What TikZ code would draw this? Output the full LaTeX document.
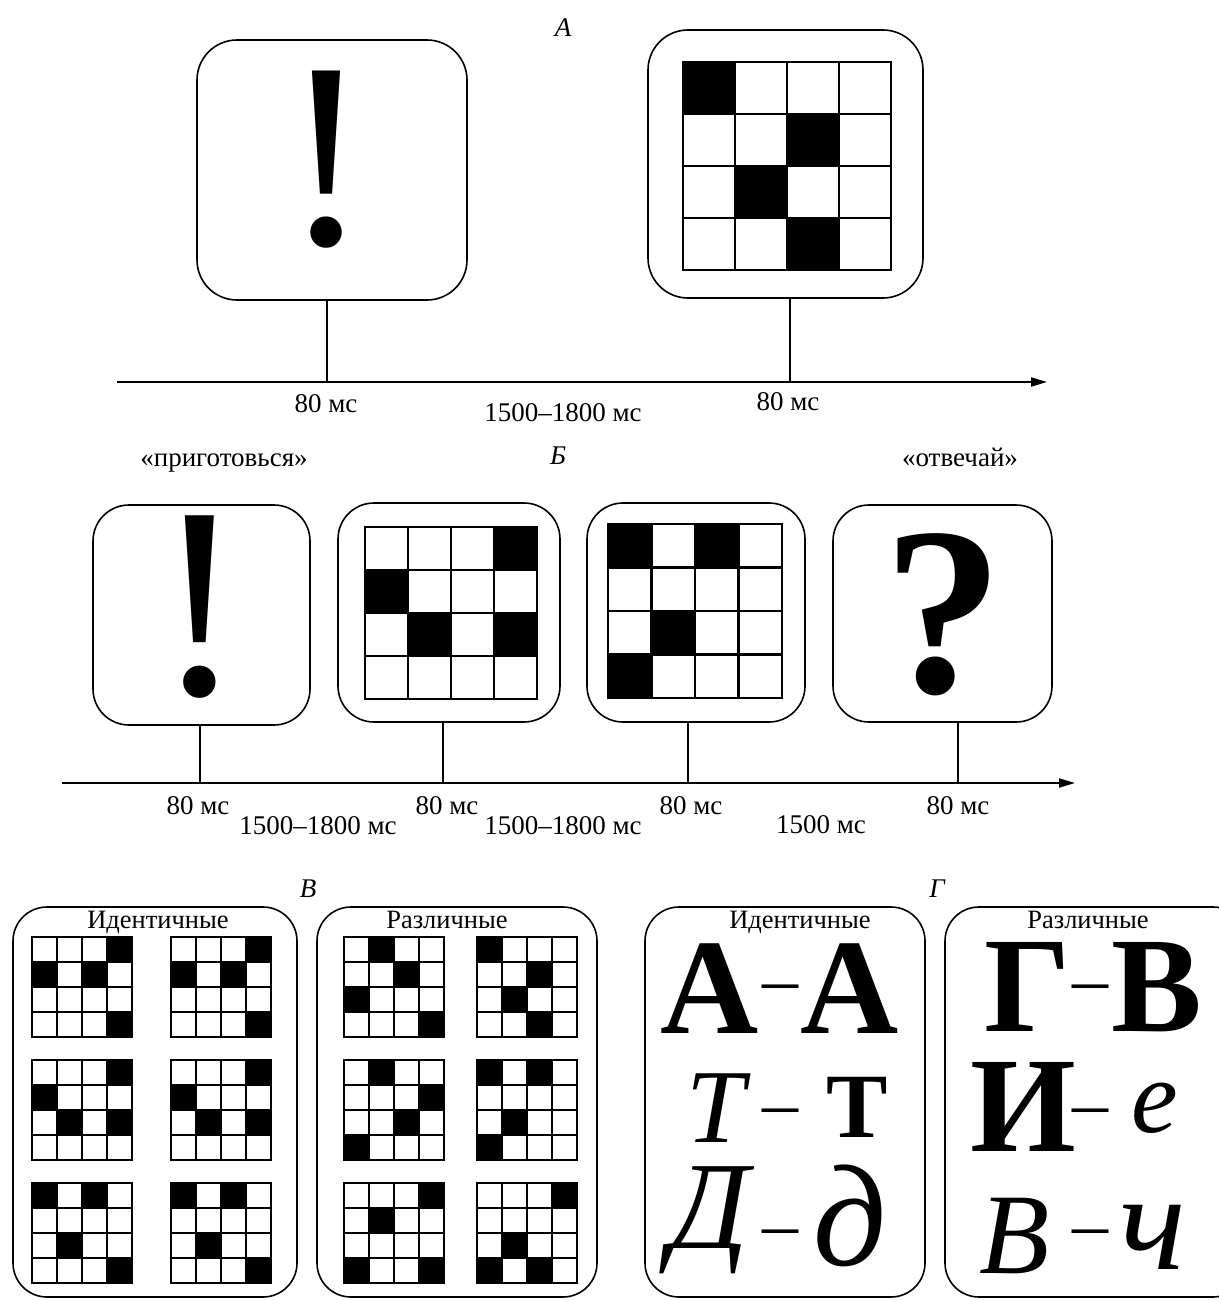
\documentclass[tikz,border=0pt]{standalone}
\usepackage{fontspec}
\setmainfont{Liberation Serif}
\usetikzlibrary{arrows.meta}
\tikzset{
  panel/.style={draw, line width=1.6pt, inner sep=0pt, rounded corners=#1},
  panel/.default=38pt,
  tickline/.style={line width=1.4pt},
  axisline/.style={line width=2pt, -{Triangle[length=16pt,width=9pt]}},
  lbl/.style={font=\fontsize{27}{32}\selectfont, anchor=base, inner sep=0pt},
  ttl/.style={font=\fontsize{26.5}{30}\selectfont, anchor=base, inner sep=0pt},
  seclbl/.style={font=\fontsize{27}{32}\selectfont\itshape, anchor=base, inner sep=0pt},
  glyph/.style={inner sep=0pt, font=\fontsize{#1}{#1}\selectfont},
  bglyph/.style={inner sep=0pt, font=\fontsize{#1}{#1}\selectfont\bfseries},
  iglyph/.style={inner sep=0pt, font=\fontsize{#1}{#1}\selectfont\itshape},
  dashglyph/.style={inner sep=0pt, anchor=base, font=\fontsize{72}{72}\selectfont},
}
% #1 x, #2 y (top), #3 cell size, #4 line width, #5 pattern (16 entries, row by row)
\newcommand{\patgrid}[5]{%
  \foreach \v [count=\kk from 0] in {#5} {%
    \pgfmathtruncatemacro{\rr}{floor(\kk/4)}%
    \pgfmathtruncatemacro{\cc}{mod(\kk,4)}%
    \ifnum\v=1
      \fill ({#1+\cc*#3},{#2+\rr*#3}) rectangle ++(#3,#3);
    \fi
  }%
  \foreach \jj in {0,...,4} {%
    \draw[line width=#4, line cap=rect] ({#1+\jj*#3},#2) -- ++(0,{4*#3});
    \draw[line width=#4, line cap=rect] (#1,{#2+\jj*#3}) -- ++({4*#3},0);
  }%
}
\begin{document}
\begin{tikzpicture}[x=1pt,y=-1pt]
\useasboundingbox (0,0) rectangle (1218,1300);
\fill[white] (0,0) rectangle (1218,1300);

% ---------------- A ----------------
\node[seclbl] (secA) at (563,37) {А};
\node[panel=40pt, minimum width=270pt, minimum height=260pt] (pA1) at (332,170) {};
\node[glyph=265] (exA) at (327,160) {!};
\node[panel=40pt, minimum width=275pt, minimum height=268pt] (pA2) at (785.5,164) {};
\patgrid{683}{62}{52}{2.6}{1,0,0,0, 0,0,1,0, 0,1,0,0, 0,0,1,0}
\coordinate (axA0) at (117,382);
\coordinate (axA1) at (1047,382);
\draw[axisline] (axA0) -- (axA1);
\coordinate (tA1) at (327,382);
\coordinate (tA2) at (790,382);
\draw[tickline] (pA1.south -| tA1) -- (tA1);
\draw[tickline] (pA2.south -| tA2) -- (tA2);
\node[lbl] (lA1) at (326,412) {80 мс};
\node[lbl] (lA2) at (563,421) {1500–1800 мс};
\node[lbl] (lA3) at (788,410) {80 мс};

% ---------------- Б ----------------
\node[seclbl] (secB) at (558,464) {Б};
\node[lbl] (rdy) at (224,466) {«приготовься»};
\node[lbl] (ans) at (960,466) {«отвечай»};
\node[panel=36pt, minimum width=217pt, minimum height=220pt] (pB1) at (201.5,615) {};
\node[glyph=273] (exB) at (200,607) {!};
\node[panel=36pt, minimum width=222pt, minimum height=219pt] (pB2) at (449,612.5) {};
\patgrid{365}{527}{43}{2.4}{0,0,0,1, 1,0,0,0, 0,1,0,1, 0,0,0,0}
\node[panel=36pt, minimum width=218pt, minimum height=219pt] (pB3) at (696,612.5) {};
\patgrid{608}{524}{43.5}{2.4}{1,0,1,0, 0,0,0,0, 0,1,0,0, 1,0,0,0}
\node[panel=36pt, minimum width=219pt, minimum height=217pt] (pB4) at (942.5,613.5) {};
\node[bglyph=240] (qB) at (943,615) {?};
\coordinate (axB0) at (62,783);
\coordinate (axB1) at (1075,783);
\draw[axisline] (axB0) -- (axB1);
\coordinate (tB1) at (200,783);
\coordinate (tB2) at (443,783);
\coordinate (tB3) at (688,783);
\coordinate (tB4) at (958,783);
\draw[tickline] (pB1.south -| tB1) -- (tB1);
\draw[tickline] (pB2.south -| tB2) -- (tB2);
\draw[tickline] (pB3.south -| tB3) -- (tB3);
\draw[tickline] (pB4.south -| tB4) -- (tB4);
\node[lbl] (lB1) at (198,814) {80 мс};
\node[lbl] (lB2) at (447,814) {80 мс};
\node[lbl] (lB3) at (691,814) {80 мс};
\node[lbl] (lB4) at (958,814) {80 мс};
\node[lbl] (lB5) at (318,834) {1500–1800 мс};
\node[lbl] (lB6) at (563,834) {1500–1800 мс};
\node[lbl] (lB7) at (821,833) {1500 мс};

% ---------------- В ----------------
\node[seclbl] (secV) at (308,897) {В};
\node[panel=34pt, minimum width=284pt, minimum height=390pt] (pV1) at (155,1102) {};
\node[ttl] (tV1) at (158,928) {Идентичные};
\patgrid{32}{937}{25}{1.8}{0,0,0,1, 1,0,1,0, 0,0,0,0, 0,0,0,1}
\patgrid{171}{937}{25}{1.8}{0,0,0,1, 1,0,1,0, 0,0,0,0, 0,0,0,1}
\patgrid{32}{1060}{25}{1.8}{0,0,0,1, 1,0,0,0, 0,1,0,1, 0,0,0,0}
\patgrid{171}{1060}{25}{1.8}{0,0,0,1, 1,0,0,0, 0,1,0,1, 0,0,0,0}
\patgrid{32}{1183}{25}{1.8}{1,0,1,0, 0,0,0,0, 0,1,0,0, 0,0,0,1}
\patgrid{171}{1183}{25}{1.8}{1,0,1,0, 0,0,0,0, 0,1,0,0, 0,0,0,1}

\node[panel=34pt, minimum width=280pt, minimum height=390pt] (pV2) at (457,1102) {};
\node[ttl] (tV2) at (447,928) {Различные};
\patgrid{344}{937}{25}{1.8}{0,1,0,0, 0,0,1,0, 1,0,0,0, 0,0,0,1}
\patgrid{477}{937}{25}{1.8}{1,0,0,0, 0,0,1,0, 0,1,0,0, 0,0,1,0}
\patgrid{344}{1060}{25}{1.8}{0,1,0,0, 0,0,0,1, 0,0,1,0, 1,0,0,0}
\patgrid{477}{1060}{25}{1.8}{1,0,1,0, 0,0,0,0, 0,1,0,0, 1,0,0,0}
\patgrid{344}{1183}{25}{1.8}{0,0,0,1, 0,1,0,0, 0,0,0,0, 1,0,0,1}
\patgrid{477}{1183}{25}{1.8}{0,0,0,1, 0,0,0,0, 0,1,0,0, 1,0,1,0}

% ---------------- Г ----------------
\node[seclbl] (secG) at (937,897) {Г};
\node[panel=34pt, minimum width=280pt, minimum height=390pt] (pG1) at (785,1102) {};
\node[ttl] (tG1) at (800,928) {Идентичные};
\node[bglyph=136] (g11) at (710,989) {А};
\node[dashglyph] (d11) at (780,1003) {–};
\node[bglyph=136] (g12) at (850,989) {А};
\node[iglyph=105] (g21) at (716,1108) {Т};
\node[dashglyph] (d12) at (780,1127) {–};
\node[bglyph=92] (g22) at (857,1107) {Т};
\node[iglyph=125] (g31) at (709,1220) {Д};
\node[dashglyph] (d13) at (780,1248) {–};
\node[iglyph=145] (g32) at (850,1216) {д};

\node[panel=34pt, minimum width=302pt, minimum height=390pt] (pG2) at (1096,1102) {};
\node[ttl] (tG2) at (1088,928) {Различные};
\node[bglyph=136] (h11) at (1028,987) {Г};
\node[dashglyph] (d21) at (1090,1003) {–};
\node[bglyph=136] (h12) at (1157,987) {В};
\node[bglyph=136] (h21) at (1023,1107) {И};
\node[dashglyph] (d22) at (1090,1127) {–};
\node[iglyph=105] (h22) at (1155,1108) {е};
\node[iglyph=115] (h31) at (1015,1236) {В};
\node[dashglyph] (d23) at (1090,1248) {–};
\node[iglyph=140] (h32) at (1153,1237) {ч};
\end{tikzpicture}
\end{document}
